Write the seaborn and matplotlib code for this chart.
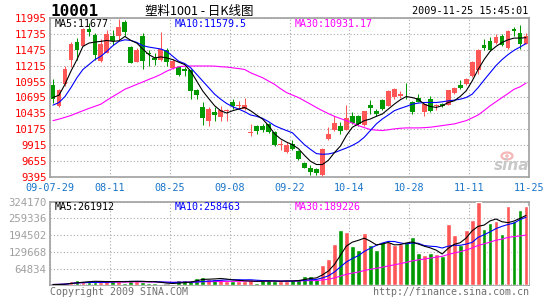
import numpy as np
import pandas as pd
import matplotlib
matplotlib.use("Agg")
import matplotlib.pyplot as plt
from matplotlib.patches import Ellipse
import seaborn as sns

# ---------------- data ----------------
xtick_labels = ['09-07-29', '08-11', '08-25', '09-08', '09-22', '10-14', '10-28', '11-11', '11-25']

opens = [10895, 10560, 10912, 11318, 11605, 11545, 11822, 11724, 11291, 11426,
         11708, 11697, 11941, 11524, 11280, 11708, 11420, 11345, 11307, 11480,
         11182, 11198, 11155, 11139, 10814, 10532, 10315, 10462, 10369, 10478,
         10613, 10550, 10505, 10115, 10234, 10234, 10261, 10126, 9909, 9801,
         9936, 9812, 9627, 9541, 9519, 9421, 10006, 10169, 10234, 10169,
         10386, 10386, 10245, 10570, 10478, 10657, 10559, 10711, 10722, 10776,
         10613, 10694, 10462, 10667, 10548, 10586, 10580, 10765, 10895, 10911,
         11047, 11144, 11561, 11615, 11588, 11708, 11507, 11822, 11751, 11577]
closes = [10668, 10814, 11155, 11572, 11480, 11822, 11773, 11388, 11578, 11740,
          11616, 11860, 11762, 11264, 11480, 11302, 11410, 11307, 11491, 11274,
          11290, 11063, 11128, 10803, 10732, 10353, 10505, 10408, 10494, 10494,
          10559, 10565, 10570, 10136, 10140, 10169, 10126, 9909, 9930, 9909,
          9855, 9682, 9541, 9465, 9449, 9855, 10099, 10277, 10153, 10353,
          10277, 10261, 10472, 10521, 10424, 10505, 10803, 10841, 10749, 10765,
          10462, 10624, 10592, 10478, 10570, 10548, 10819, 10857, 10857, 11003,
          11274, 11480, 11507, 11480, 11686, 11561, 11794, 11794, 11577, 11708]
highs = [10993, 10830, 11210, 11605, 11670, 11830, 11914, 11751, 11654, 11805,
         11805, 11990, 11968, 11540, 11507, 11751, 11480, 11426, 11778, 11507,
         11328, 11209, 11198, 11155, 10830, 10613, 10532, 10532, 10559, 10505,
         10667, 10640, 10694, 10261, 10245, 10261, 10277, 10153, 9990, 9963,
         9990, 9828, 9638, 9595, 9541, 9866, 10207, 10386, 10288, 10570,
         10451, 10408, 10478, 10657, 10505, 10667, 10814, 10857, 10803, 10927,
         10640, 10749, 10608, 10722, 10586, 10603, 10825, 10873, 10982, 11020,
         11290, 11485, 11653, 11686, 11740, 11740, 11800, 11859, 11881, 11751]
lows = [10603, 10545, 10880, 11199, 11318, 11540, 11697, 11318, 11280, 11420,
        11562, 11643, 11697, 11255, 11270, 11166, 11209, 11236, 11290, 11209,
        11155, 11047, 11047, 10667, 10678, 10245, 10234, 10315, 10315, 10315,
        10505, 10505, 10494, 10071, 10099, 10126, 10115, 9898, 9828, 9790,
        9828, 9665, 9530, 9421, 9421, 9400, 9990, 10137, 10099, 10160,
        10261, 10234, 10234, 10424, 10397, 10494, 10548, 10678, 10694, 10678,
        10424, 10613, 10386, 10462, 10494, 10532, 10570, 10749, 10841, 10895,
        11036, 11074, 11480, 11464, 11577, 11545, 11491, 11697, 11491, 11566]

ma5 = [10694, 10733, 10911, 11128, 11317, 11534, 11588, 11605, 11616, 11632,
       11616, 11626, 11697, 11632, 11588, 11491, 11399, 11345, 11361, 11345,
       11317, 11274, 11236, 11128, 10965, 10803, 10678, 10559, 10478, 10440,
       10478, 10505, 10532, 10478, 10408, 10342, 10234, 10099, 10017, 9963,
       9920, 9855, 9746, 9649, 9595, 9595, 9665, 9790, 9898, 10071,
       10207, 10261, 10315, 10342, 10386, 10424, 10505, 10586, 10657, 10711,
       10694, 10667, 10586, 10548, 10532, 10559, 10613, 10640, 10711, 10803,
       10965, 11155, 11317, 11453, 11534, 11599, 11642, 11670, 11670, 11677]
ma10 = [10570, 10613, 10711, 10857, 11020, 11155, 11236, 11317, 11372, 11453,
        11545, 11616, 11642, 11632, 11599, 11545, 11523, 11507, 11491, 11453,
        11372, 11290, 11252, 11182, 11074, 10965, 10857, 10749, 10667, 10597,
        10543, 10505, 10462, 10408, 10386, 10353, 10299, 10234, 10191, 10153,
        10115, 10017, 9920, 9844, 9774, 9763, 9768, 9790, 9828, 9866,
        9909, 9963, 10044, 10153, 10261, 10342, 10408, 10478, 10516, 10548,
        10586, 10603, 10613, 10613, 10613, 10624, 10640, 10651, 10667, 10694,
        10749, 10857, 10982, 11101, 11220, 11317, 11399, 11469, 11523, 11580]
ma30 = [10315, 10340, 10369, 10400, 10440, 10478, 10516, 10550, 10586, 10650,
        10711, 10770, 10830, 10870, 10911, 10950, 10992, 11030, 11074, 11128,
        11170, 11200, 11209, 11212, 11212, 11212, 11212, 11210, 11200, 11195,
        11182, 11170, 11155, 11101, 11060, 11020, 10965, 10911, 10840, 10776,
        10735, 10694, 10640, 10586, 10530, 10478, 10430, 10386, 10350, 10315,
        10275, 10234, 10200, 10169, 10160, 10153, 10165, 10180, 10190, 10196,
        10196, 10196, 10200, 10207, 10220, 10234, 10248, 10261, 10288, 10315,
        10360, 10408, 10480, 10559, 10626, 10694, 10760, 10830, 10870, 10931]

volumes = [3000, 4000, 6000, 15000, 19000, 15500, 14000, 14000, 13000, 15500,
           15500, 15500, 10500, 18000, 18000, 14000, 10500, 10500, 5000, 3000,
           6000, 19000, 19000, 15500, 28000, 32000, 24000, 24000, 24000, 17000,
           15500, 15500, 15500, 19000, 10500, 19000, 19000, 15500, 15500, 15500,
           19000, 26000, 36000, 36000, 26000, 78000, 101000, 162000, 214000, 207000,
           153000, 136000, 204000, 155000, 136000, 169000, 166000, 158000, 160000, 168000,
           187000, 127000, 117000, 127000, 123000, 113000, 237000, 194000, 158000, 214000,
           253000, 324000, 218000, 240000, 250000, 200000, 307000, 249000, 292000, 307000]

price_ticks = [9395, 9655, 9915, 10175, 10435, 10695, 10955, 11215, 11475, 11735, 11995]
vol_ticks = [64834, 129668, 194502, 259336, 324170]

# ---------------- styling ----------------
RED = '#ff5656'
GREEN = '#009a00'
GRID = '#a8a8a8'
FRAME = '#a0a0a0'

sns.set_theme(style="white")
plt.rcParams['font.family'] = ['DejaVu Sans Mono', 'Noto Sans CJK SC']

W, H = 545, 300
fig = plt.figure(figsize=(W / 100, H / 100), dpi=100)
fig.patch.set_facecolor('white')


def rect(l, t, r, b):
    return [l / W, 1 - b / H, (r - l) / W, (b - t) / H]


def ftext(x, y, s, **kw):
    fig.text(x / W, 1 - y / H, s, **kw)


ax = fig.add_axes(rect(50, 18.3, 529, 176.7))
axv = fig.add_axes(rect(50, 201.7, 529, 285.3))

n = len(closes)
idx = np.arange(n)
o = np.array(opens, float)
c = np.array(closes, float)
up = c >= o
cols = np.where(up, RED, GREEN)

# candles
ax.vlines(idx, lows, highs, colors=cols, linewidth=0.75, zorder=3)
body_bottom = np.minimum(o, c)
body_h = np.maximum(np.abs(c - o), 10)
ax.bar(idx, body_h, bottom=body_bottom, width=0.8, color=cols, linewidth=0, zorder=4)

# moving averages
sns.lineplot(x=idx, y=ma30, ax=ax, color='#ff00ff', linewidth=0.8, zorder=5)
sns.lineplot(x=idx, y=ma10, ax=ax, color='#0000ff', linewidth=0.8, zorder=5)
sns.lineplot(x=idx, y=ma5, ax=ax, color='black', linewidth=0.8, zorder=6)

# volume
vdf = pd.DataFrame({'i': idx, 'vol': volumes, 'dir': np.where(up, 'up', 'down')})
sns.barplot(data=vdf, x='i', y='vol', hue='dir', palette={'up': RED, 'down': GREEN},
            native_scale=True, dodge=False, width=0.8, saturation=1, legend=False,
            errorbar=None, ax=axv, zorder=3)
vs = pd.Series(volumes, dtype=float)
sns.lineplot(x=idx, y=vs.rolling(30, min_periods=1).mean().values, ax=axv, color='#ff00ff', linewidth=0.8, zorder=5)
sns.lineplot(x=idx, y=vs.rolling(10, min_periods=1).mean().values, ax=axv, color='#0000ff', linewidth=0.8, zorder=5)
sns.lineplot(x=idx, y=vs.rolling(5, min_periods=1).mean().values, ax=axv, color='black', linewidth=0.8, zorder=6)

xt = np.arange(-0.5, n + 0.5, 10)
for a in (ax, axv):
    a.set_xlim(-0.5, n - 0.5)
    a.set_xticks(xt)
    a.grid(True, color=GRID, linestyle=(0, (1, 2)), linewidth=0.8)
    a.set_axisbelow(True)
    a.set_xlabel('')
    a.set_ylabel('')
    for s in a.spines.values():
        s.set_color(FRAME)
        s.set_linewidth(1.2)
        s.set_visible(True)

ax.set_ylim(9395, 11995)
ax.set_yticks(price_ticks)
ax.set_yticklabels([str(t) for t in price_ticks])
ax.set_xticklabels(xtick_labels)
ax.tick_params(axis='y', length=0, pad=2.5, labelsize=7.7, labelcolor='#ff0000')
ax.tick_params(axis='x', length=0, pad=4.5, labelsize=7.3, labelcolor='#1874c8')

axv.set_ylim(0, 324170)
axv.set_yticks(vol_ticks)
axv.set_yticklabels([str(t) for t in vol_ticks])
axv.set_xticklabels([])
axv.tick_params(axis='y', length=0, pad=2.5, labelsize=7.7, labelcolor='#a0a0a0')
axv.tick_params(axis='x', length=0)

# texts
ftext(50, 11, '10001', fontsize=11.5, fontweight='bold', color='black', va='center', ha='left')
ftext(199, 11, '塑料1001 - 日K线图', fontsize=9, color='black', va='center', ha='center',
      family=['Noto Sans CJK SC', 'DejaVu Sans'])
ftext(528, 11, '2009-11-25 15:45:01', fontsize=7.3, color='black', va='center', ha='right')

ftext(55, 24, 'MA5:11677', fontsize=7.2, color='black', va='center', ha='left')
ftext(175, 24, 'MA10:11579.5', fontsize=7.2, color='#0000ff', va='center', ha='left')
ftext(295, 24, 'MA30:10931.17', fontsize=7.2, color='#ff00ff', va='center', ha='left')

ftext(55, 207, 'MA5:261912', fontsize=7.2, color='black', va='center', ha='left')
ftext(175, 207, 'MA10:258463', fontsize=7.2, color='#0000ff', va='center', ha='left')
ftext(295, 207, 'MA30:189226', fontsize=7.2, color='#ff00ff', va='center', ha='left')

ftext(50, 292, 'Copyright 2009 SINA.COM', fontsize=7.2, color='#707070', va='center', ha='left')
ftext(529, 292, 'http://finance.sina.com.cn', fontsize=7.2, color='#707070', va='center', ha='right')

# sina watermark (logo eye + text)
fig.patches.append(Ellipse((507 / W, 1 - 156 / H), 11 / W, 7 / H, transform=fig.transFigure,
                           facecolor='none', edgecolor='#f4b8b8', linewidth=1.6))
fig.patches.append(Ellipse((507 / W, 1 - 156 / H), 3.5 / W, 3.5 / H, transform=fig.transFigure,
                           facecolor='#f4b8b8', edgecolor='none'))
ftext(512, 165, 'sina', fontsize=11, fontweight='bold', style='italic', color='#c8c8c8',
      va='center', ha='center', family='DejaVu Sans')

fig.savefig('out.png', dpi=100, facecolor='white')
